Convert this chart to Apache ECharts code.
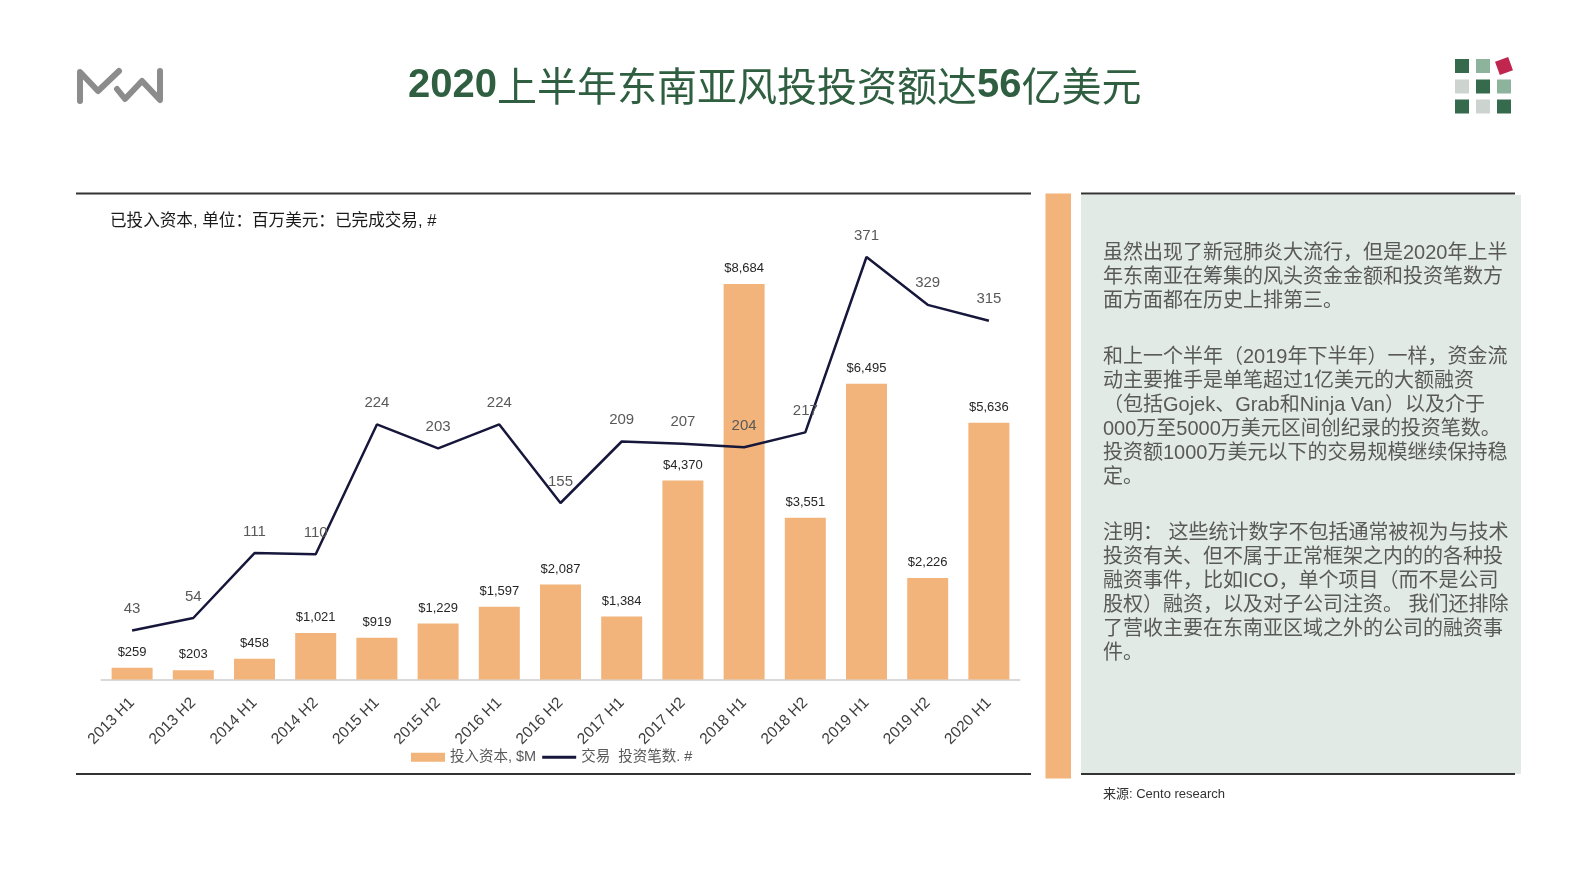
<!DOCTYPE html>
<html>
<head>
<meta charset="utf-8">
<script src="https://cdn.jsdelivr.net/npm/echarts@6/dist/echarts.min.js"></script>
<style>
html,body{margin:0;padding:0;background:#fff;}
#main{width:1590px;height:888px;}
</style>
</head>
<body>
<div id="main"></div>
<script>
const categories = ['2013 H1','2013 H2','2014 H1','2014 H2','2015 H1','2015 H2','2016 H1','2016 H2','2017 H1','2017 H2','2018 H1','2018 H2','2019 H1','2019 H2','2020 H1'];
const capitalInvested = [259, 203, 458, 1021, 919, 1229, 1597, 2087, 1384, 4370, 8684, 3551, 6495, 2226, 5636];
const dealsCompleted = [43, 54, 111, 110, 224, 203, 224, 155, 209, 207, 204, 217, 371, 329, 315];
const seriesNames = ['投入资本, $M', '交易  投资笔数. #'];
const titleParts = ['2020', '上半年东南亚风投投资额达', '56', '亿美元'];
const subtitleText = '已投入资本, 单位：百万美元：已完成交易, #';
const para1 = ['虽然出现了新冠肺炎大流行，但是2020年上半','年东南亚在筹集的风头资金金额和投资笔数方','面方面都在历史上排第三。'];
const para2 = ['和上一个半年（2019年下半年）一样，资金流','动主要推手是单笔超过1亿美元的大额融资','（包括Gojek、Grab和Ninja Van）以及介于','000万至5000万美元区间创纪录的投资笔数。','投资额1000万美元以下的交易规模继续保持稳','定。'];
const para3 = ['注明： 这些统计数字不包括通常被视为与技术','投资有关、但不属于正常框架之内的的各种投','融资事件，比如ICO，单个项目（而不是公司','股权）融资，以及对子公司注资。 我们还排除','了营收主要在东南亚区域之外的公司的融资事','件。'];
const sourceText = '来源: Cento research';

const LATIN = 'Liberation Sans, Arial, Noto Sans CJK SC, sans-serif';
const CJK = 'Liberation Sans, Noto Sans CJK SC, sans-serif';
const ORANGE = '#F2B47A';
const GREEN = '#2f5f40';
const NAVY = '#16173a';

const chart = echarts.init(document.getElementById('main'), null, {renderer:'canvas'});

function txt(x, y, lines, size, color, lh) {
  return {type:'text', silent:true, style:{x:x, y:y, text:lines.join('\n'), fontSize:size, fontFamily:CJK, fill:color, lineHeight:lh, verticalAlign:'top', align:'left'}};
}

const graphics = [
  {type:'line', shape:{x1:76, y1:193.5, x2:1031, y2:193.5}, style:{stroke:'#333', lineWidth:2}},
  {type:'line', shape:{x1:76, y1:774, x2:1031, y2:774}, style:{stroke:'#333', lineWidth:2}},
  {type:'rect', shape:{x:1045.5, y:193.5, width:25.5, height:585}, style:{fill:ORANGE}},
  {type:'rect', shape:{x:1081, y:195, width:440, height:579}, style:{fill:'#e2eae5'}},
  {type:'line', shape:{x1:1081, y1:193.5, x2:1515, y2:193.5}, style:{stroke:'#333', lineWidth:2}},
  {type:'line', shape:{x1:1081, y1:774, x2:1515, y2:774}, style:{stroke:'#333', lineWidth:2}},
  {type:'polyline', shape:{points:[[80,101],[80,72],[98,91],[119,71]]}, style:{stroke:'#8c8c8c', lineWidth:6, fill:null, lineJoin:'round', lineCap:'round'}},
  {type:'polyline', shape:{points:[[117,89],[125,99],[142,81],[160,100],[160,71]]}, style:{stroke:'#8c8c8c', lineWidth:6, fill:null, lineJoin:'round', lineCap:'round'}},
  {type:'rect', shape:{x:1455, y:59, width:14, height:14}, style:{fill:'#356b4c'}},
  {type:'rect', shape:{x:1476, y:59, width:14, height:14}, style:{fill:'#8db39c'}},
  {type:'rect', x:1504, y:66, rotation:0.35, shape:{x:-7, y:-7, width:14, height:14}, style:{fill:'#c1264f'}},
  {type:'rect', shape:{x:1455, y:79.5, width:14, height:14}, style:{fill:'#cdd3ce'}},
  {type:'rect', shape:{x:1476, y:79.5, width:14, height:14}, style:{fill:'#356b4c'}},
  {type:'rect', shape:{x:1497, y:79.5, width:14, height:14}, style:{fill:'#8db39c'}},
  {type:'rect', shape:{x:1455, y:99.5, width:14, height:14}, style:{fill:'#356b4c'}},
  {type:'rect', shape:{x:1476, y:99.5, width:14, height:14}, style:{fill:'#cdd3ce'}},
  {type:'rect', shape:{x:1497, y:99.5, width:14, height:14}, style:{fill:'#356b4c'}},
  {type:'text', silent:true, style:{x:110, y:221, text:subtitleText, fontSize:16.6, fontFamily:CJK, fill:'#1a1a1a', verticalAlign:'middle', align:'left'}},
  txt(1103, 241.5, para1, 20, '#595959', 24),
  txt(1103, 345.5, para2, 20, '#595959', 24),
  txt(1103, 521.5, para3, 20, '#595959', 24),
  {type:'text', silent:true, style:{x:1103, y:794, text:sourceText, fontSize:13, fontFamily:CJK, fill:'#333', verticalAlign:'middle', align:'left'}}
];

const option = {
  animation:false,
  backgroundColor:'#ffffff',
  title:{
    left:403, top:59,
    text:'{d|' + titleParts[0] + '}{c|' + titleParts[1] + '}{d|' + titleParts[2] + '}{c|' + titleParts[3] + '}',
    textStyle:{
      rich:{
        d:{fontSize:40, fontWeight:'bold', color:GREEN, fontFamily:LATIN, lineHeight:44},
        c:{fontSize:40, fontWeight:'normal', color:GREEN, fontFamily:'Noto Sans CJK SC, sans-serif', lineHeight:44}
      }
    }
  },
  legend:{
    left:406, top:745,
    itemWidth:34, itemHeight:9, itemGap:6,
    textStyle:{color:'#595959', fontSize:14.5, fontFamily:CJK},
    data:[
      {name:seriesNames[0], icon:'rect'},
      {name:seriesNames[1], icon:'path://M0,0h34v3h-34z', itemStyle:{color:NAVY}}
    ]
  },
  grid:{left:101.5, right:570.5, top:224, bottom:208.5},
  xAxis:{
    type:'category', data:categories,
    axisLine:{lineStyle:{color:'#d9d9d9', width:2}},
    axisTick:{show:false},
    axisLabel:{rotate:45, interval:0, color:'#404040', fontSize:15.5, margin:21, fontFamily:LATIN},
    splitLine:{show:false}
  },
  yAxis:[
    {type:'value', min:0, max:10000, show:false, splitLine:{show:false}},
    {type:'value', min:0, max:400, show:false, splitLine:{show:false}}
  ],
  series:[
    {
      name:seriesNames[0], type:'bar', data:capitalInvested, yAxisIndex:0,
      barWidth:'67%', itemStyle:{color:ORANGE},
      label:{show:true, position:'top', distance:9, color:'#262626', fontSize:13, fontFamily:LATIN,
        formatter:function(p){return '$' + p.value.toLocaleString('en-US');}}
    },
    {
      name:seriesNames[1], type:'line', data:dealsCompleted, yAxisIndex:1,
      symbol:'circle', symbolSize:0.01, showSymbol:true,
      lineStyle:{color:NAVY, width:2.5}, itemStyle:{color:NAVY},
      label:{show:true, position:'top', distance:14, color:'#595959', fontSize:15, fontFamily:LATIN},
      labelLayout:{hideOverlap:false},
      z:3
    }
  ],
  graphic:graphics
};
chart.setOption(option);
</script>
</body>
</html>
